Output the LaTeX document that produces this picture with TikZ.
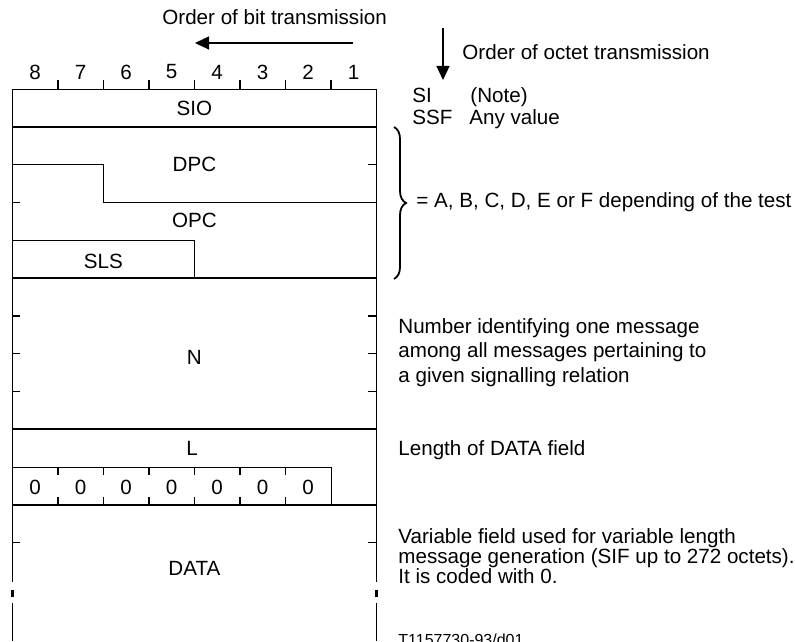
\documentclass[tikz,border=0pt]{standalone}
\usepackage{fontspec}
\setmainfont{Liberation Sans}
\usetikzlibrary{arrows.meta,positioning,decorations.pathreplacing}
\tikzset{
  frame/.style={line width=0.4pt,draw=black},
  sep/.style={line width=0.8pt,draw=black},
  tk/.style={line width=0.7pt,draw=black},
  fld/.style={font=\fontsize{10.3}{12}\selectfont,inner sep=0pt},
  note/.style={font=\fontsize{10.3}{12}\selectfont,inner sep=0pt,anchor=base west,align=left},
  arr/.style={-{Triangle[length=7pt,width=6.5pt]},line width=0.6pt},
}

\begin{document}
\begin{tikzpicture}[x=0.5pt,y=-0.5pt]
    \useasboundingbox (0,0) rectangle (795,641);
    % bit numbering above the frame
    \foreach \b [count=\i from 0] in {8,7,6,5,4,3,2,1}
      \node[fld] (bit\b) at (35.15+45.5*\i,72) {\b};
    \foreach \i in {1,...,7}
      \draw[tk] (12.4+45.5*\i,80) -- (12.4+45.5*\i,89);
    % transmission order
    \node[note] (bitord) at (162,25) {Order of bit transmission};
    \coordinate (bitA) at (353,43);
    \coordinate (bitB) at (195,43);
    \draw[arr] (bitA) -- (bitB);
    \coordinate (octA) at (443,28);
    \coordinate (octB) at (443,80);
    \draw[arr] (octA) -- (octB);
    \node[note] (octord) at (462,60) {Order of octet transmission};
    % outer frame
    \draw[frame] (12.4,582) -- (12.4,89) -- (376.4,89) -- (376.4,582);
    \draw[frame] (12.4,603) -- (12.4,641) (376.4,603) -- (376.4,641);
    \draw[line width=1.1pt] (12.4,590) -- (12.4,597) (376.4,590) -- (376.4,597);
    % field separators
    \foreach \y in {126.8,278,429.2,504.8}
      \draw[sep] (12.4,\y) -- (376.4,\y);
    \draw[frame] (12.4,164.6) -- (103.4,164.6) -- (103.4,202.4) -- (376.4,202.4);
    \draw[frame] (12.4,240.2) -- (194.4,240.2) -- (194.4,278);
    \draw[frame] (12.4,467) -- (330.9,467) -- (330.9,504.8);
    % octet marks on the frame edges
    \foreach \y in {202.4,315.8,353.6,391.4,542.6}
      \draw[tk] (12.4,\y) -- (20.4,\y);
    \foreach \y in {164.6,315.8,353.6,391.4,542.6}
      \draw[tk] (368.4,\y) -- (376.4,\y);
    % spare bits
    \foreach \i in {1,...,6}{
      \draw[tk] (12.4+45.5*\i,467) -- (12.4+45.5*\i,475);
      \draw[tk] (12.4+45.5*\i,504.8) -- (12.4+45.5*\i,496.8);
    }
    \foreach \i in {0,...,6}
      \node[fld] (z\i) at (35.15+45.5*\i,487) {0};
    % field names
    \node[fld] (sio) at (194.4,108) {SIO};
    \node[fld] (dpc) at (194.4,164) {DPC};
    \node[fld] (opc) at (194.4,220) {OPC};
    \node[fld] (sls) at (103.4,261) {SLS};
    \node[fld] (n) at (194.4,357) {N};
    \node[fld] (l) at (192,448) {L};
    \node[fld] (data) at (194.4,568) {DATA};
    % explanations (multi-line notes sit on their last baseline)
    \node[note] (si) at (412,103) {SI};
    \node[note] (sinote) at (470,103) {(Note)};
    \node[note] (ssf) at (412,125) {SSF};
    \node[note] (ssfval) at (469,125) {Any value};
    \draw[line width=0.9pt,decorate,decoration={brace,amplitude=6pt}] (394,127) -- (394,279);
    \node[note] (test) at (416,208) {= A, B, C, D, E or F depending of the test};
    \node[note,font=\fontsize{10.3}{12.25}\selectfont] (nexp) at (398,382)
      {Number identifying one message\\among all messages pertaining to\\a given signalling relation};
    \node[note] (lexp) at (398,455) {Length of DATA field};
    \node[note,font=\fontsize{10.3}{10}\selectfont] (dexp) at (398,583)
      {Variable field used for variable length\\message generation (SIF up to 272 octets).\\It is coded with 0.};
    \node[note,font=\fontsize{8}{9}\selectfont] (ref) at (398,645) {T1157730-93/d01};
  \end{tikzpicture}
\end{document}
